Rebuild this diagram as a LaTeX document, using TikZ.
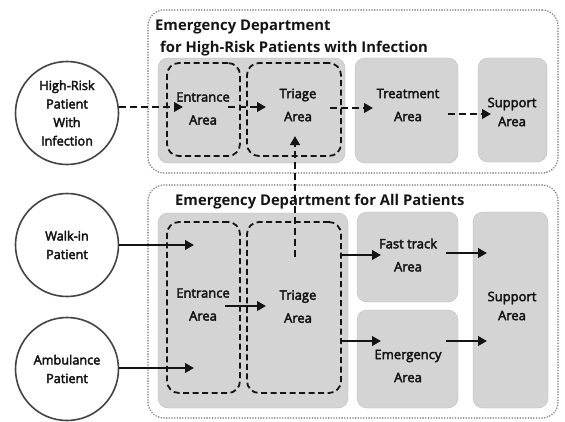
\documentclass[tikz,border=0pt]{standalone}
\usepackage{fontspec}
\setmainfont{Open Sans}
\newfontfamily\labfont{Open Sans}[FakeBold=3]
\usetikzlibrary{arrows.meta}
\definecolor{boxgray}{RGB}{212,212,212}
\definecolor{dotgray}{RGB}{135,135,135}
\definecolor{ink}{RGB}{20,20,20}
\begin{document}
\begin{tikzpicture}[x=1pt,y=-1pt,
  outerbox/.style={draw=dotgray, line width=1.8pt, dash pattern=on 0pt off 2.7pt, line cap=round, rounded corners=16pt, inner sep=0pt},
  grayarea/.style={fill=boxgray, draw=boxgray!85!black, line width=0.3pt, rounded corners=10pt, inner sep=0pt},
  dashzone/.style={draw=ink, line width=1.8pt, dash pattern=on 6pt off 3.5pt, rounded corners=12pt, inner sep=0pt},
  lbl/.style={font=\labfont\fontsize{13}{23}\selectfont, align=center, text=ink, inner sep=0pt},
  circlbl/.style={font=\labfont\fontsize{12.7}{18.5}\selectfont, align=center, text=ink, inner sep=0pt},
  patient/.style={circle, draw=ink!80, line width=1.6pt, minimum size=103pt, inner sep=0pt},
  ttl/.style={font=\fontsize{14.8}{22}\selectfont\bfseries, text=ink, inner sep=0pt, anchor=base west},
  solidarrow/.style={draw=ink, line width=2.3pt, -{Triangle[length=9pt,width=9.5pt]}},
  dasharrow/.style={draw=ink, line width=2.3pt, dash pattern=on 7pt off 4pt, -{Triangle[length=9pt,width=9.5pt]}}
]
\useasboundingbox (0,0) rectangle (565,421);
\fill[white] (0,0) rectangle (565,421);

% outer departments
\node[outerbox, minimum width=410pt, minimum height=163pt] (topdept) at (353,91.5) {};
\node[outerbox, minimum width=410pt, minimum height=233pt] (botdept) at (353,301.5) {};
\node[ttl] (toptitle1) at (155,30) {Emergency Department};
\node[ttl] (toptitle2) at (160,52) {for High-Risk Patients with Infection};
\node[ttl] (bottitle) at (175,205) {Emergency Department for All Patients};

% top department areas
\node[grayarea, minimum width=187pt, minimum height=105pt] (topgray) at (251.5,110.5) {};
\node[dashzone, minimum width=73pt, minimum height=93pt] (tent) at (203.5,109.5) {};
\node[dashzone, minimum width=94pt, minimum height=93pt] (ttri) at (294,109.5) {};
\node[grayarea, minimum width=103pt, minimum height=105pt] (ttreat) at (406.5,110.5) {};
\node[grayarea, minimum width=69pt, minimum height=104pt] (tsup) at (512.5,110) {};
\node[lbl] (tentl) at (203,108.5) {Entrance\\Area};
\node[lbl] (ttril) at (298,105) {Triage\\Area};
\node[lbl] (ttreatl) at (408,105) {Treatment\\Area};
\node[lbl, font=\labfont\fontsize{13}{19}\selectfont] (tsupl) at (512,112) {Support\\Area};

% bottom department areas
\node[grayarea, minimum width=190pt, minimum height=195pt] (botgray) at (253,310.5) {};
\node[dashzone, minimum width=73pt, minimum height=171pt] (bent) at (203.5,307.5) {};
\node[dashzone, minimum width=94pt, minimum height=171pt] (btri) at (294,307.5) {};
\node[grayarea, minimum width=101pt, minimum height=90pt] (bfast) at (407.5,257) {};
\node[grayarea, minimum width=101pt, minimum height=98pt] (bemer) at (407.5,359) {};
\node[grayarea, minimum width=75pt, minimum height=196pt] (bsup) at (510.5,310) {};
\node[lbl] (bentl) at (203,304.5) {Entrance\\Area};
\node[lbl] (btril) at (298,306.5) {Triage\\Area};
\node[lbl] (bfastl) at (408,255) {Fast track\\Area};
\node[lbl] (bemerl) at (408,366) {Emergency\\Area};
\node[lbl, font=\labfont\fontsize{13}{19}\selectfont] (bsupl) at (512,306) {Support\\Area};

% patients
\node[patient] (hr) at (67,113) {};
\node[circlbl] at (hr.center) {High-Risk\\Patient\\With\\Infection};
\node[patient] (walk) at (67,245) {};
\node[circlbl] at (walk.center) {Walk-in\\Patient};
\node[patient] (amb) at (67,369) {};
\node[circlbl] at (amb.center) {Ambulance\\Patient};

% connector end points
\coordinate (c1) at (183,107);
\coordinate (c2s) at (228,107);
\coordinate (c2e) at (266,107);
\coordinate (c3s) at (330,108);
\coordinate (c3e) at (373,108);
\coordinate (c4s) at (448,114);
\coordinate (c4e) at (491,114);
\coordinate (c5s) at (295,257);
\coordinate (c5e) at (295,136);
\coordinate (w1) at (194,245);
\coordinate (a1) at (194,368);
\coordinate (e1s) at (225,306);
\coordinate (e1e) at (266,306);
\coordinate (f1e) at (381,255);
\coordinate (m1e) at (381,341);
\coordinate (f2s) at (446,253);
\coordinate (f2e) at (487,253);
\coordinate (m2s) at (446,341);
\coordinate (m2e) at (487,341);

% top flow (dashed)
\draw[dasharrow] (hr.east |- c1) -- (c1);
\draw[dasharrow] (c2s) -- (c2e);
\draw[dasharrow] (c3s) -- (c3e);
\draw[dasharrow] (c4s) -- (c4e);
\draw[dasharrow] (c5s) -- (c5e);

% bottom flow (solid)
\draw[solidarrow] (walk.east |- w1) -- (w1);
\draw[solidarrow] (amb.east |- a1) -- (a1);
\draw[solidarrow] (e1s) -- (e1e);
\draw[solidarrow] (btri.east |- f1e) -- (f1e);
\draw[solidarrow] (btri.east |- m1e) -- (m1e);
\draw[solidarrow] (f2s) -- (f2e);
\draw[solidarrow] (m2s) -- (m2e);
\end{tikzpicture}
\end{document}
